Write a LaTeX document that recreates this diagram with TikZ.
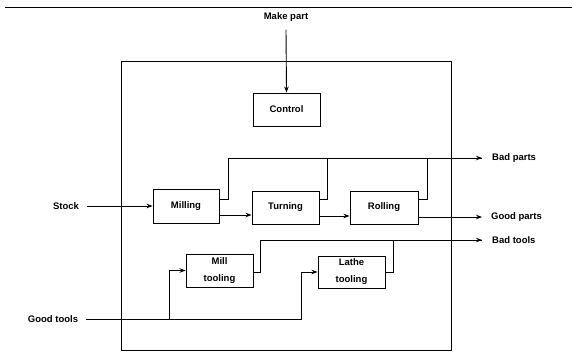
\documentclass[tikz,border=0pt]{standalone}
\usepackage{fontspec}
\setmainfont{Liberation Sans}
\usetikzlibrary{arrows.meta}
\tikzset{
  txt/.style={font=\fontsize{9.5}{17}\selectfont\bfseries},
  proc/.style={draw, line width=0.9pt, txt, align=center, inner sep=0pt},
  lbl/.style={txt, inner sep=0pt},
  ln/.style={line width=0.9pt},
  arr/.style={ln, -{Stealth[length=6pt,width=4.5pt]}}
}
\begin{document}
\begin{tikzpicture}[x=1pt,y=-1pt]
\useasboundingbox (0,0) rectangle (572,352);
% top rule and system boundary
\draw[ln] (5,7) -- (572,7);
\node[draw, line width=0.9pt, minimum width=330pt, minimum height=289pt, inner sep=0pt] (system) at (286,205.5) {};
% processes
\node[proc, minimum width=67pt, minimum height=33pt] (control) at (286.5,109.5) {Control};
\node[proc, minimum width=66pt, minimum height=34pt] (milling) at (186,206) {Milling};
\node[proc, minimum width=67pt, minimum height=33pt] (turning) at (285.5,207.5) {Turning};
\node[proc, minimum width=68pt, minimum height=33pt] (rolling) at (384,207.5) {Rolling};
\node[proc, minimum width=67pt, minimum height=33pt] (milltool) at (219.5,270.5) {Mill\\tooling};
\node[proc, minimum width=67pt, minimum height=32pt] (lathetool) at (351.5,272) {Lathe\\tooling};
% labels
\node[lbl, inner ysep=8pt] (makepart) at (286,17) {Make part};
\node[lbl, inner xsep=8pt] (stock) at (66,206) {Stock};
\node[lbl, inner xsep=8pt] (goodtools) at (53,319) {Good tools};
\node[lbl, anchor=west, inner xsep=10pt] (badparts) at (482,158) {Bad parts};
\node[lbl, anchor=west, inner xsep=9pt] (goodparts) at (482,217) {Good parts};
\node[lbl, anchor=west, inner xsep=10pt] (badtools) at (482,240) {Bad tools};
% connectors
\draw[arr] (makepart.south) -- (control.north);
\draw[arr] (stock.east) -- (milling.west);
\coordinate (m2) at ([yshift=-9pt]milling.east);
\draw[arr] (m2) -- (m2 -| turning.west);
\coordinate (t2) at ([yshift=-8.5pt]turning.east);
\draw[arr] (t2) -- (t2 -| rolling.west);
\coordinate (r2) at ([yshift=-9.5pt]rolling.east);
\draw[arr] (r2) -- (goodparts.west);
% bad parts
\coordinate (m1) at ([yshift=7pt]milling.east);
\coordinate (t1) at ([yshift=8.5pt]turning.east);
\coordinate (r1) at ([yshift=8.5pt]rolling.east);
\draw[arr] (m1) -- ++(9,0) |- (badparts.west);
\draw[ln] (t1) -- ++(8,0) |- (badparts.west);
\draw[ln] (r1) -- ++(9,0) |- (badparts.west);
% tools
\coordinate (br) at (169,319);
\draw[arr] (goodtools.east) -- ++(215,0) |- (lathetool.west);
\draw[arr] (br) |- (milltool.west);
\coordinate (mt1) at ([yshift=-1.5pt]milltool.east);
\draw[arr] (mt1) -- ++(7,0) |- (badtools.west);
\draw[ln] (lathetool.east) -- ++(8,0) |- (badtools.west);
\end{tikzpicture}
\end{document}
